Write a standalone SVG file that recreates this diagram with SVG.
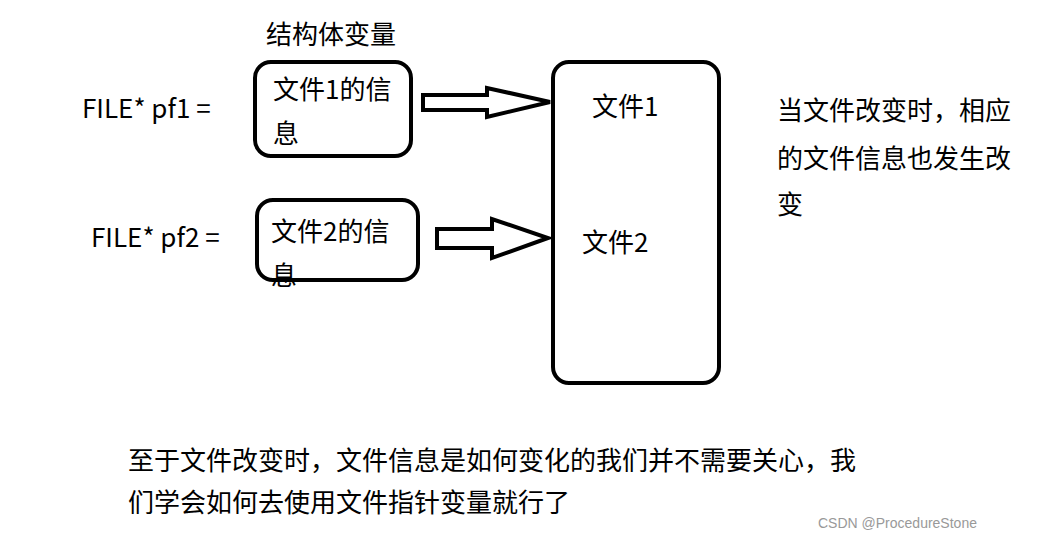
<svg xmlns="http://www.w3.org/2000/svg" width="1043" height="538" viewBox="0 0 1043 538">
<style>
.b{fill:none;stroke:#000;stroke-width:4}
.a{fill:#fff;stroke:#000;stroke-width:4;stroke-linejoin:miter}
text{font-family:"Noto Sans CJK SC","Noto Sans",sans-serif;font-size:26px;fill:#000}
.w{font-size:14px;fill:#999;font-family:"Liberation Sans",sans-serif}
</style>
<rect width="1043" height="538" fill="#fff"/>
<text x="266" y="44">结构体变量</text>
<text x="82" y="118">FILE* pf1 =</text>
<text x="91" y="247">FILE* pf2 =</text>
<g id="n1"><rect class="b" x="255" y="62" width="156" height="94" rx="16"/><text x="273" y="99">文件1的信</text><text x="273" y="143">息</text></g>
<g id="n2"><rect class="b" x="257" y="200" width="161" height="80" rx="16"/><text x="271" y="241">文件2的信</text><text x="271" y="285">息</text></g>
<g id="n3"><rect class="b" x="553" y="62" width="166" height="321" rx="16"/><text x="592" y="116">文件1</text><text x="582" y="252">文件2</text></g>
<g id="edges">
<path class="a" d="M423,95 H487 V88 L550,102 L487,117 V110 H423 Z"/>
<path class="a" d="M437,229 H492 V219 L548,238 L492,258 V248 H437 Z"/>
</g>
<text x="777" y="120">当文件改变时，相应</text>
<text x="777" y="168">的文件信息也发生改</text>
<text x="777" y="214">变</text>
<text x="128" y="470">至于文件改变时，文件信息是如何变化的我们并不需要关心，我</text>
<text x="128" y="512">们学会如何去使用文件指针变量就行了</text>
<text class="w" x="818" y="528">CSDN @ProcedureStone</text>
</svg>
